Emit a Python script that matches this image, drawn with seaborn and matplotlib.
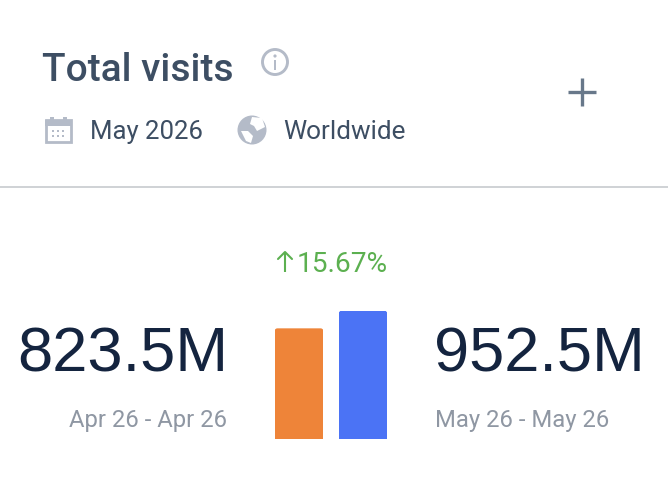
"""Total visits card: two bars compared, with the header and icons around them."""
import matplotlib
matplotlib.use("Agg")
import matplotlib.pyplot as plt
import seaborn as sns
from matplotlib.patches import Circle, FancyBboxPatch, Polygon, Rectangle

periods = ["Apr 26 - Apr 26", "May 26 - May 26"]
visits = [823.5, 952.5]
visit_labels = ["823.5M", "952.5M"]
bar_colors = ["#ee8439", "#4b73f5"]
change_label = "15.67%"
title = "Total visits"
date_label = "May 2026"
region_label = "Worldwide"

W, H = 668, 492
DARK = "#3d4e63"
ICON = "#b4bbc8"
NAVY = "#14243f"
GREY = "#8f97a3"
GREEN = "#5cb050"

sns.set_theme(style="white")
plt.rcParams["font.family"] = ["Roboto", "DejaVu Sans"]

fig = plt.figure(figsize=(W / 100, H / 100), dpi=100, facecolor="white")

# overlay in pixel coordinates for the card furniture
bg = fig.add_axes([0, 0, 1, 1])
bg.set_xlim(0, W)
bg.set_ylim(H, 0)
bg.axis("off")

# bars: slot of 64px per category, baseline at y=439, top of tallest at y=311
ax = fig.add_axes([267 / W, 1 - 439 / H, 128 / W, 128 / H])
sns.barplot(x=periods, y=visits, hue=periods, palette=bar_colors, width=0.75,
            saturation=1, legend=False, ax=ax)
ax.set_xlim(-0.5, 1.5)
ax.set_ylim(0, max(visits))
ax.axis("off")
ax.patch.set_alpha(0)

# round the top corners of each bar with a clip box, 1px oversize keeps the
# straight edges sharp
fig.canvas.draw()
for bar in ax.patches:
    x0, y0 = ax.transData.transform((bar.get_x(), 0))
    x1, y1 = ax.transData.transform((bar.get_x() + bar.get_width(), bar.get_height()))
    x0, x1, y1 = x0 - 0.7, x1 + 0.7, y1 + 0.7
    clip = FancyBboxPatch((x0 + 5, y0 - 20), x1 - x0 - 10, y1 - y0 + 20 - 5,
                          boxstyle="round,pad=5,rounding_size=5",
                          transform=None, fc="none", ec="none")
    bar.set_snap(False)
    bar.set_clip_path(clip)
    bar.set_linewidth(0)

# header
bg.text(42.5, 81, title, fontsize=28, fontweight="medium", color=DARK, va="baseline")
bg.text(90, 139, date_label, fontsize=18.5, color=DARK, va="baseline")
bg.text(283, 139, region_label, fontsize=18.8, color=DARK, va="baseline")

# info icon
bg.add_patch(Circle((275, 62), 12.5, fc="none", ec=ICON, lw=2.1))
bg.add_patch(Rectangle((273.7, 60), 2.6, 9.5, fc=ICON, ec="none"))
bg.add_patch(Circle((275, 56), 1.6, fc=ICON, ec="none"))

# calendar icon
bg.add_patch(Rectangle((46, 120), 24.5, 22, fc="none", ec=ICON, lw=2))
bg.add_patch(Rectangle((45, 120), 26.5, 5.5, fc=ICON, ec="none"))
bg.add_patch(Rectangle((50, 117), 3.5, 4, fc=ICON, ec="none"))
bg.add_patch(Rectangle((63, 117), 3.5, 4, fc=ICON, ec="none"))
for cx in (52, 57, 62):
    for cy in (130, 135):
        bg.add_patch(Rectangle((cx, cy), 2.4, 2.4, fc=ICON, ec="none"))

# globe icon
bg.add_patch(Circle((252, 130), 14.5, fc=ICON, ec="none"))
bg.add_patch(Polygon([(252, 117), (262, 118), (265, 127), (257, 131), (254, 126), (250, 124)],
                     fc="white", ec="none"))
bg.add_patch(Polygon([(241, 131), (248, 131), (253, 136), (251, 143), (246, 141)],
                     fc="white", ec="none"))

# plus
bg.plot([568, 596], [92, 92], color="#68788a", lw=2.4, solid_capstyle="butt")
bg.plot([582, 582], [78, 106], color="#68788a", lw=2.4, solid_capstyle="butt")

# divider
bg.plot([0, W], [187, 187], color="#cfd2d5", lw=1.4)

# change label with arrow
bg.plot([285, 285], [272, 252], color=GREEN, lw=1.5, solid_capstyle="butt")
bg.plot([278, 285, 292], [259, 252, 259], color=GREEN, lw=1.5)
bg.text(297, 272, change_label, fontsize=20.2, color=GREEN, va="baseline")

# big numbers and period labels
bg.text(228, 372, visit_labels[0], fontsize=45.5, color=NAVY, ha="right", va="baseline",
        family=["Liberation Sans", "DejaVu Sans"])
bg.text(434, 372, visit_labels[1], fontsize=45.5, color=NAVY, ha="left", va="baseline",
        family=["Liberation Sans", "DejaVu Sans"])
bg.text(227, 427, periods[0], fontsize=17.2, color=GREY, ha="right", va="baseline")
bg.text(435, 427, periods[1], fontsize=17.2, color=GREY, ha="left", va="baseline")

fig.savefig("out.png", dpi=100, facecolor="white")
